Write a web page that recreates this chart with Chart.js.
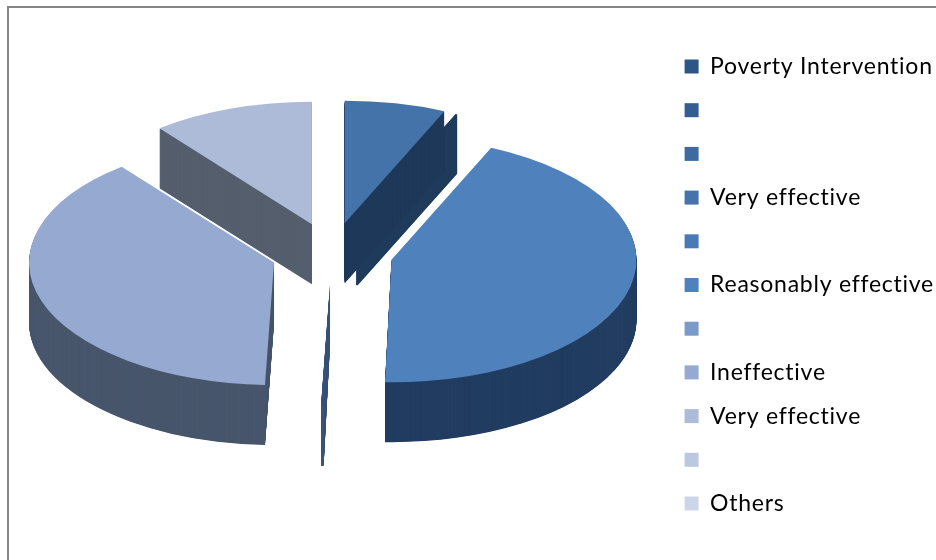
<!DOCTYPE html>
<html><head><meta charset="utf-8">
<style>
html,body{margin:0;padding:0;background:#fff;width:936px;height:560px;overflow:hidden}
#w{position:absolute;left:0;top:0;width:936px;height:560px}
#fl{position:absolute;left:7px;top:6px;width:2px;height:554px;background:#868686}
#ft{position:absolute;left:7px;top:6px;width:929px;height:2px;background:#868686}
</style>
<script src="https://cdn.jsdelivr.net/npm/chart.js@4"></script>
</head><body>
<div id="w"><canvas id="c" width="936" height="560"></canvas></div>
<div id="fl"></div><div id="ft"></div>
<script>
const categories=['Poverty Intervention','','','Very effective','','Reasonably effective','','Ineffective','Very effective','','Others'];
const shares=[0,0,0,6.67,0,43.75,0.17,38.72,10.69,0,0];
const legendColors=['#2d5585','#345d92','#3d6a9f','#4673ab','#4a7ab5','#4f81bd','#7a9bca','#95a9d1','#adbbd9','#bcc8e0','#cdd6e8'];
const topColors=['#2d5585','#345d92','#3d6a9f','#4473a9','#1f3a5a','#4f81bd','#35507a','#95a9d1','#adbbd9','#bcc8e0','#cdd6e8'];
const wallColors=[null,null,null,'#1e3859',"#1f3b5b",'#223d61','#3a5478','#48566c','#555f6e',null,null];
const wallOrder=[4,3,8,5,7,6];
const center={x:332,y:253}, squash=0.5, depth=60, explode=61;

function place(ctx,el,dy,ox,oy){
  const mid=(el.startAngle+el.endAngle)/2;
  ctx.translate(center.x,center.y+dy);
  ctx.scale(1,squash);
  ctx.translate(-ox+Math.cos(mid)*explode,-oy+Math.sin(mid)*explode);
}
const pie3d={id:'pie3d',
  beforeLayout(chart){chart.ctx.letterSpacing='0.75px';},
  beforeDraw(chart){chart.ctx.letterSpacing='0.75px';},
  beforeDatasetDraw(chart,args){
    const ctx=chart.ctx, arcs=args.meta.data;
    const ox=arcs[0].x, oy=arcs[0].y;
    for(const i of wallOrder){
      const el=arcs[i];
      ctx.fillStyle=ctx.strokeStyle=wallColors[i];
      ctx.lineWidth=2;
      for(let d=depth;d>=1;d-=0.5){
        ctx.save();
        place(ctx,el,d,ox,oy);
        ctx.beginPath();
        ctx.moveTo(el.x,el.y);
        ctx.arc(el.x,el.y,el.outerRadius,el.startAngle,el.endAngle);
        ctx.closePath();
        if(el.endAngle-el.startAngle>0)ctx.fill();else ctx.stroke();
        ctx.restore();
      }
    }
    arcs.forEach(el=>{
      if(el.endAngle-el.startAngle<=0)return;
      ctx.save();
      place(ctx,el,0,ox,oy);
      el.draw(ctx);
      ctx.restore();
    });
    return false;
  }
};

new Chart(document.getElementById('c'),{
  type:'pie',
  data:{labels:categories,datasets:[{
    data:shares,backgroundColor:topColors,borderWidth:0,radius:245,clip:false
  }]},
  options:{
    responsive:false,animation:false,
    layout:{padding:{top:10,right:-8,left:0,bottom:0}},
    plugins:{
      tooltip:{enabled:false},
      legend:{
        position:'right',
        labels:{
          boxWidth:14,boxHeight:14,padding:20.7,color:'#111',
          font:{family:'Lato',size:23},
          generateLabels(chart){
            return categories.map((t,i)=>({text:t,fillStyle:legendColors[i],strokeStyle:legendColors[i],lineWidth:0,index:i,hidden:false}));
          }
        }
      }
    }
  },
  plugins:[pie3d]
});
</script>
</body></html>
